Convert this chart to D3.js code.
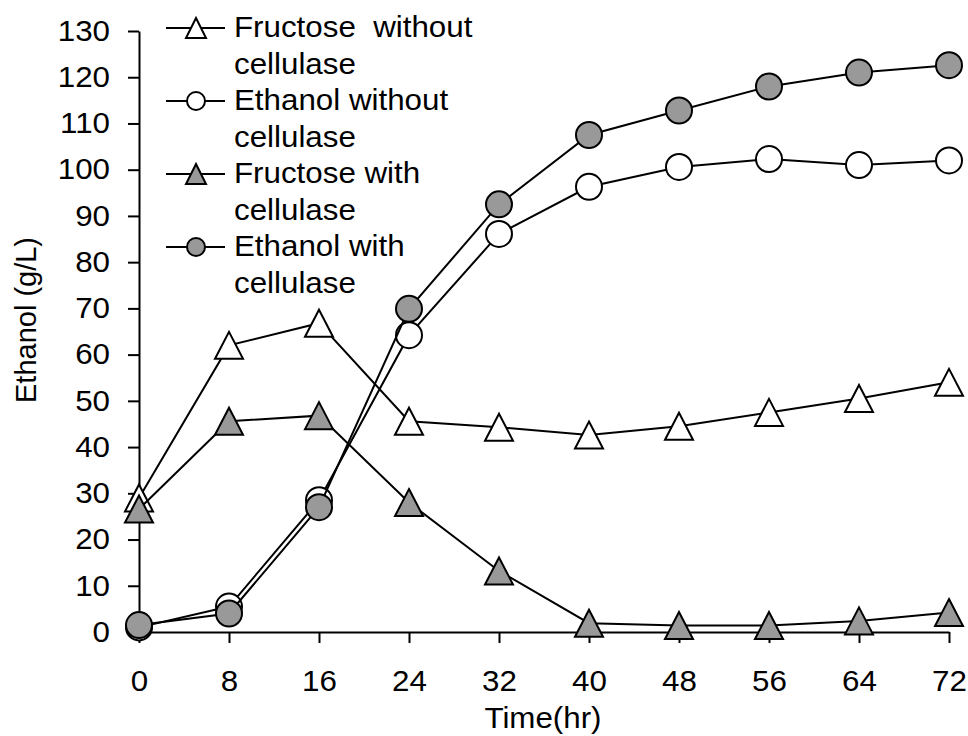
<!DOCTYPE html>
<html>
<head>
<meta charset="utf-8">
<script src="https://cdn.jsdelivr.net/npm/d3@7"></script>
<style>
  body { margin: 0; background: #fff; }
  text { font-family: "Liberation Sans", Arial, sans-serif; fill: #000; }
  .wide { transform-box: fill-box; transform: scaleX(1.08); }
</style>
</head>
<body>
<div id="chart"></div>
<script>
const times = [0, 8, 16, 24, 32, 40, 48, 56, 64, 72]
const fructoseWithout = [29, 62, 66.8, 45.6, 44.3, 42.6, 44.5, 47.5, 50.5, 54]
const ethanolWithout = [1.0, 5.5, 28.5, 64.2, 86.1, 96.3, 100.6, 102.3, 101, 102]
const fructoseWith = [26.6, 45.6, 46.8, 28, 13.2, 1.9, 1.4, 1.4, 2.4, 4.2]
const ethanolWith = [1.5, 4.0, 27, 69.9, 92.5, 107.5, 112.8, 118, 121, 122.6]
const yTicks = [0, 10, 20, 30, 40, 50, 60, 70, 80, 90, 100, 110, 120, 130]
const xTicks = [0, 8, 16, 24, 32, 40, 48, 56, 64, 72]

const series = [
    {name: ["Fructose  without", "cellulase"], values: fructoseWithout, shape: "triangle", fill: "#fff"},
    {name: ["Ethanol without", "cellulase"], values: ethanolWithout, shape: "circle", fill: "#fff"},
    {name: ["Fructose with", "cellulase"], values: fructoseWith, shape: "triangle", fill: "#999"},
    {name: ["Ethanol with", "cellulase"], values: ethanolWith, shape: "circle", fill: "#999"}
]

const width = 968
const height = 736
const fontSize = 29

const svg = d3.select("#chart")
    .append("svg")
    .attr("width", width)
    .attr("height", height)

const x = d3.scaleLinear().domain([0, 72]).range([139, 949])
const y = d3.scaleLinear().domain([0, 130]).range([632, 31])

// axes
const xAxis = svg.append("g")
    .attr("transform", "translate(0," + y(0) + ")")
    .call(d3.axisBottom(x).tickValues(xTicks).tickSize(11).tickSizeOuter(0).tickPadding(27))
const yAxis = svg.append("g")
    .attr("transform", "translate(" + x(0) + ",0)")
    .call(d3.axisLeft(y).tickValues(yTicks).tickSize(11).tickSizeOuter(0).tickPadding(18))

;[xAxis, yAxis].forEach(g => {
    g.selectAll("path, line").attr("stroke", "#000").attr("stroke-width", 2)
    g.selectAll("text").style("font-size", fontSize + "px").attr("fill", "#000")
        .style("font-family", "'Liberation Sans', Arial, sans-serif")
        .attr("class", "wide")
})
xAxis.selectAll("text").style("transform-origin", "center")
yAxis.selectAll("text").style("transform-origin", "right")

svg.append("text")
    .attr("class", "wide")
    .style("transform-origin", "center")
    .attr("x", 543)
    .attr("y", 728)
    .attr("text-anchor", "middle")
    .style("font-size", fontSize + "px")
    .text("Time(hr)")

svg.append("text")
    .attr("transform", "translate(36,320) rotate(-90)")
    .attr("text-anchor", "middle")
    .style("font-size", fontSize + "px")
    .text("Ethanol (g/L)")

function triangle(w, h) {
    return "M0," + (-h / 2) + "L" + (w / 2) + "," + (h / 2) + "L" + (-w / 2) + "," + (h / 2) + "Z"
}

const line = d3.line()
    .x((d, i) => x(times[i]))
    .y(d => y(d))

// series: line then markers, in legend order
series.forEach(s => {
    svg.append("path")
        .datum(s.values)
        .attr("d", line)
        .attr("fill", "none")
        .attr("stroke", "#000")
        .attr("stroke-width", 2)

    const marks = svg.append("g").selectAll(".mark")
        .data(s.values)
        .enter()
    if (s.shape === "circle") {
        marks.append("circle")
            .attr("cx", (d, i) => x(times[i]))
            .attr("cy", d => y(d))
            .attr("r", 13)
            .attr("fill", s.fill)
            .attr("stroke", "#000")
            .attr("stroke-width", 2)
    } else {
        marks.append("path")
            .attr("d", triangle(28, 27))
            .attr("transform", (d, i) => "translate(" + x(times[i]) + "," + y(d) + ")")
            .attr("fill", s.fill)
            .attr("stroke", "#000")
            .attr("stroke-width", 2)
    }
})

// legend
const legend = svg.append("g")
series.forEach((s, i) => {
    const base = 37 + i * 73
    const my = base - 9
    legend.append("line")
        .attr("x1", 166).attr("x2", 225)
        .attr("y1", my).attr("y2", my)
        .attr("stroke", "#000").attr("stroke-width", 2)
    if (s.shape === "circle") {
        legend.append("circle")
            .attr("cx", 196).attr("cy", my).attr("r", 9)
            .attr("fill", s.fill).attr("stroke", "#000").attr("stroke-width", 2)
    } else {
        legend.append("path")
            .attr("d", triangle(20, 20))
            .attr("transform", "translate(196," + my + ")")
            .attr("fill", s.fill).attr("stroke", "#000").attr("stroke-width", 2)
    }
    s.name.forEach((t, j) => {
        legend.append("text")
            .attr("class", "wide")
            .style("transform-origin", "left")
            .attr("x", 234)
            .attr("y", base + j * 37)
            .style("font-size", fontSize + "px")
            .style("white-space", "pre")
            .text(t)
    })
})
</script>
</body>
</html>
